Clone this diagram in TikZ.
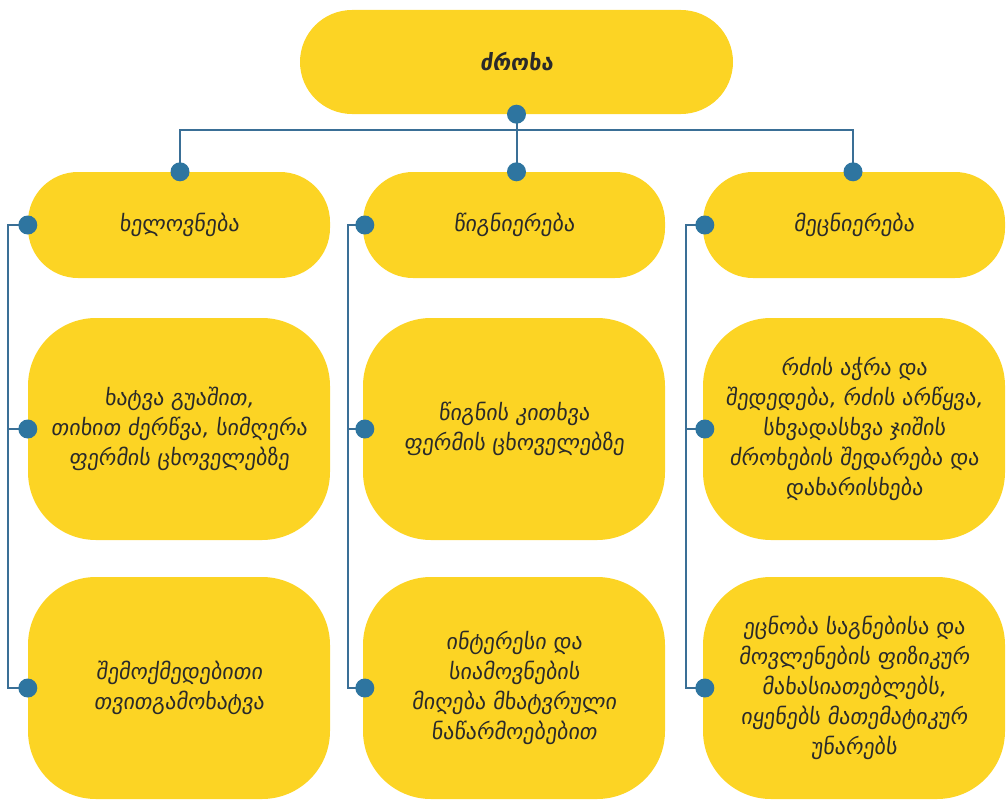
\documentclass[tikz,border=0pt]{standalone}
\usepackage{fontspec}
\newfontfamily\geo[FakeSlant=0.12]{DejaVu Sans}
\definecolor{boxyellow}{HTML}{FCD424}
\definecolor{dotblue}{HTML}{2E75A0}
\definecolor{linkblue}{HTML}{3A6F96}
\definecolor{txt}{HTML}{2A2A2A}
\tikzset{
  box/.style={fill=boxyellow, draw=none, align=center, text=txt,
    font=\geo\fontsize{22}{30}\selectfont, inner sep=0pt},
  pill/.style={box, rectangle, rounded corners=50pt, minimum width=302pt, minimum height=106pt},
  tall/.style={box, rectangle, rounded corners=68pt, minimum width=302pt, minimum height=222pt},
  link/.style={draw=linkblue, line width=2pt},
  dot/.style={circle, fill=dotblue, inner sep=0pt, minimum size=19pt}
}
\begin{document}
\begin{tikzpicture}[x=1pt, y=-1pt]
\useasboundingbox (0,0) rectangle (1006,800);
% top
\node[box, rectangle, rounded corners=52pt, minimum width=433pt, minimum height=104pt,
      font=\geo\bfseries\fontsize{22}{30}\selectfont] (root) at (516.5,62) {ძროხა};
% row 2
\node[pill] (a1) at (179,225) {ხელოვნება};
\node[pill] (b1) at (514,225) {წიგნიერება};
\node[pill] (c1) at (854,225) {მეცნიერება};
% row 3
\node[tall] (a2) at (179,429) {ხატვა გუაშით,\\თიხით ძერწვა, სიმღერა\\ფერმის ცხოველებზე};
\node[tall] (b2) at (514,429) {წიგნის კითხვა\\ფერმის ცხოველებზე};
\node[tall] (c2) at (854,429) {რძის აჭრა და\\შედედება, რძის არწყვა,\\სხვადასხვა ჯიშის\\ძროხების შედარება და\\დახარისხება};
% row 4
\node[tall] (a3) at (179,688) {შემოქმედებითი\\თვითგამოხატვა};
\node[tall] (b3) at (514,688) {ინტერესი და\\სიამოვნების\\მიღება მხატვრული\\ნაწარმოებებით};
\node[tall] (c3) at (854,688) {ეცნობა საგნებისა და\\მოვლენების ფიზიკურ\\მახასიათებლებს,\\იყენებს მათემატიკურ\\უნარებს};
% tree connectors
\coordinate (bus) at (516.5,130);
\draw[link] (root.south) -- (bus);
\draw[link] (bus) -| ([xshift=1pt]a1.north);
\draw[link] (bus) -- ([xshift=2.5pt]b1.north);
\draw[link] (bus) -| ([xshift=-1pt]c1.north);
% side connectors
\draw[link] (a1.west) -- ++(-20,0) |- (a3.west);
\draw[link] (a2.west) -- ++(-20,0);
\draw[link] ([xshift=2pt]b1.west) -- ++(-17,0) |- ([xshift=2pt]b3.west);
\draw[link] ([xshift=2pt]b2.west) -- ++(-17,0);
\draw[link] ([xshift=2pt]c1.west) -- ++(-19,0) |- ([xshift=2pt]c3.west);
\draw[link] ([xshift=2pt]c2.west) -- ++(-19,0);
% dots
\node[dot] (d0) at (root.south) {};
\node[dot] (d1) at ([xshift=1pt]a1.north) {};
\node[dot] (d2) at ([xshift=2.5pt]b1.north) {};
\node[dot] (d3) at ([xshift=-1pt]c1.north) {};
\node[dot] (e1) at (a1.west) {};
\node[dot] (e2) at (a2.west) {};
\node[dot] (e3) at (a3.west) {};
\node[dot] (f1) at ([xshift=2pt]b1.west) {};
\node[dot] (f2) at ([xshift=2pt]b2.west) {};
\node[dot] (f3) at ([xshift=2pt]b3.west) {};
\node[dot] (g1) at ([xshift=2pt]c1.west) {};
\node[dot] (g2) at ([xshift=2pt]c2.west) {};
\node[dot] (g3) at ([xshift=2pt]c3.west) {};
\end{tikzpicture}
\end{document}
